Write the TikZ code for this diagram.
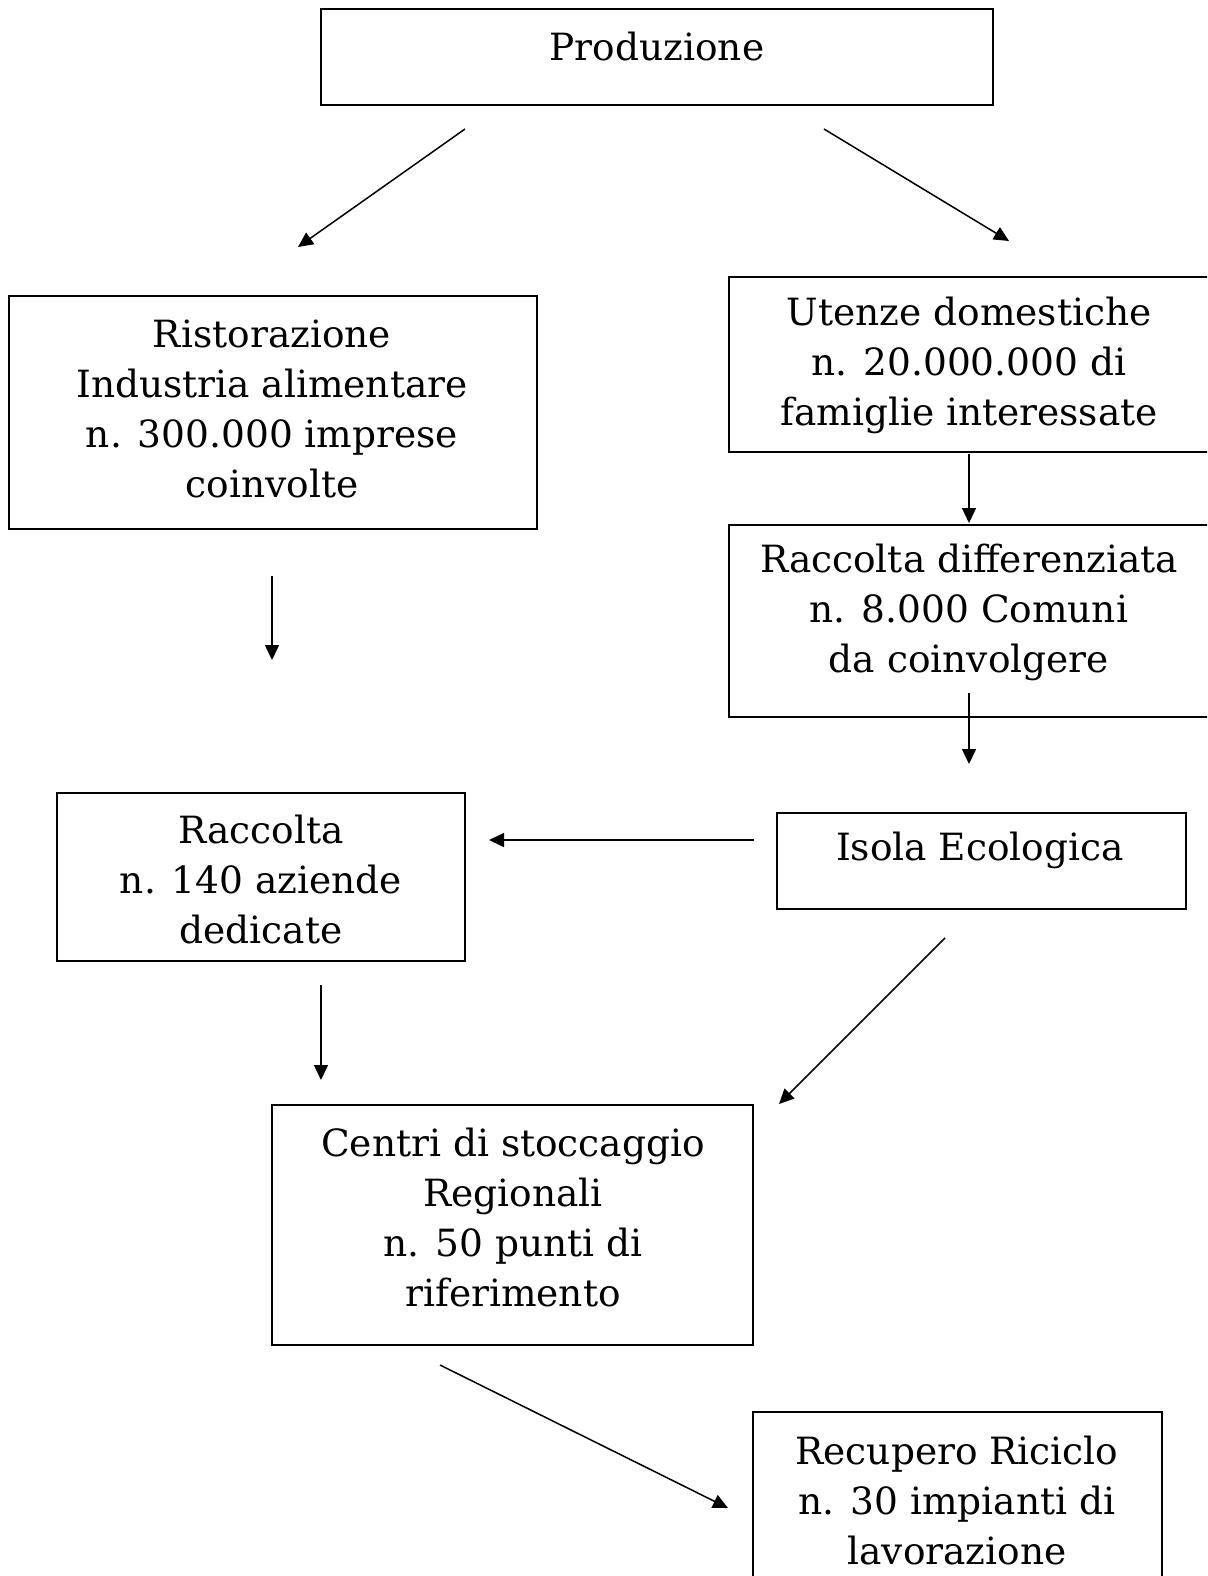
\documentclass[tikz,border=0pt]{standalone}
\usepackage{fontspec}
\setmainfont{DejaVu Serif}
\usetikzlibrary{arrows.meta}
\tikzset{
  box/.style={draw, line width=1.6pt, inner sep=0pt, outer sep=0pt},
  txt/.style={align=center, inner sep=0pt, font=\fontsize{37.5}{50}\selectfont},
  arr/.style={line width=1.5pt, -{Triangle[length=15pt,width=14pt]}}
}
\begin{document}
\begin{tikzpicture}[x=1pt,y=-1pt]
\useasboundingbox (0,0) rectangle (1207,1576);
\fill[white] (0,0) rectangle (1207,1576);
\clip (0,0) rectangle (1207,1576);
% boxes
\node[box, minimum width=672pt, minimum height=96pt] (prod) at (657,57) {};
\node[box, minimum width=528pt, minimum height=233pt] (rist) at (273,412.5) {};
\node[box, minimum width=481pt, minimum height=175pt] (uten) at (969.5,364.5) {};
\node[box, minimum width=481pt, minimum height=192pt] (rdiff) at (969.5,621) {};
\node[box, minimum width=408pt, minimum height=168pt] (racc) at (261,877) {};
\node[box, minimum width=409pt, minimum height=96pt] (isola) at (981.5,861) {};
\node[box, minimum width=481pt, minimum height=240pt] (centri) at (512.5,1225) {};
\node[box, minimum width=409pt, minimum height=178pt] (recup) at (957.5,1501) {};
% texts
\node[txt] (tprod) at (657,47) {Produzione};
\node[txt] (trist) at (272,409) {Ristorazione\\Industria alimentare\\n. 300.000 imprese\\coinvolte};
\node[txt] (tuten) at (969,365) {Utenze domestiche\\n. 20.000.000 di\\famiglie interessate};
\node[txt] (trdiff) at (969,612) {Raccolta differenziata\\n. 8.000 Comuni\\da coinvolgere};
\node[txt] (tracc) at (261,880) {Raccolta\\n. 140 aziende\\dedicate};
\node[txt] (tisola) at (980,850) {Isola Ecologica};
\node[txt] (tcentri) at (513,1218) {Centri di stoccaggio\\Regionali\\n. 50 punti di\\riferimento};
\node[txt] (trecup) at (957,1500) {Recupero Riciclo\\n. 30 impianti di\\lavorazione};
% arrow ends
\coordinate (a1s) at (465,129); \coordinate (a1e) at (298,247);
\coordinate (a2s) at (824,129); \coordinate (a2e) at (1009,241);
\coordinate (a3s) at (969,454); \coordinate (a3e) at (969,523);
\coordinate (a4s) at (272,576); \coordinate (a4e) at (272,660);
\coordinate (a5s) at (969,693); \coordinate (a5e) at (969,764);
\coordinate (a6s) at (754,840); \coordinate (a6e) at (489,840);
\coordinate (a7s) at (945,938); \coordinate (a7e) at (779,1104);
\coordinate (a8s) at (321,985); \coordinate (a8e) at (321,1080);
\coordinate (a9s) at (440,1365); \coordinate (a9e) at (728,1508);
\draw[arr] (a1s) -- (a1e);
\draw[arr] (a2s) -- (a2e);
\draw[arr] (a3s) -- (a3e);
\draw[arr] (a4s) -- (a4e);
\draw[arr] (a5s) -- (a5e);
\draw[arr] (a6s) -- (a6e);
\draw[arr] (a7s) -- (a7e);
\draw[arr] (a8s) -- (a8e);
\draw[arr] (a9s) -- (a9e);
\end{tikzpicture}
\end{document}
